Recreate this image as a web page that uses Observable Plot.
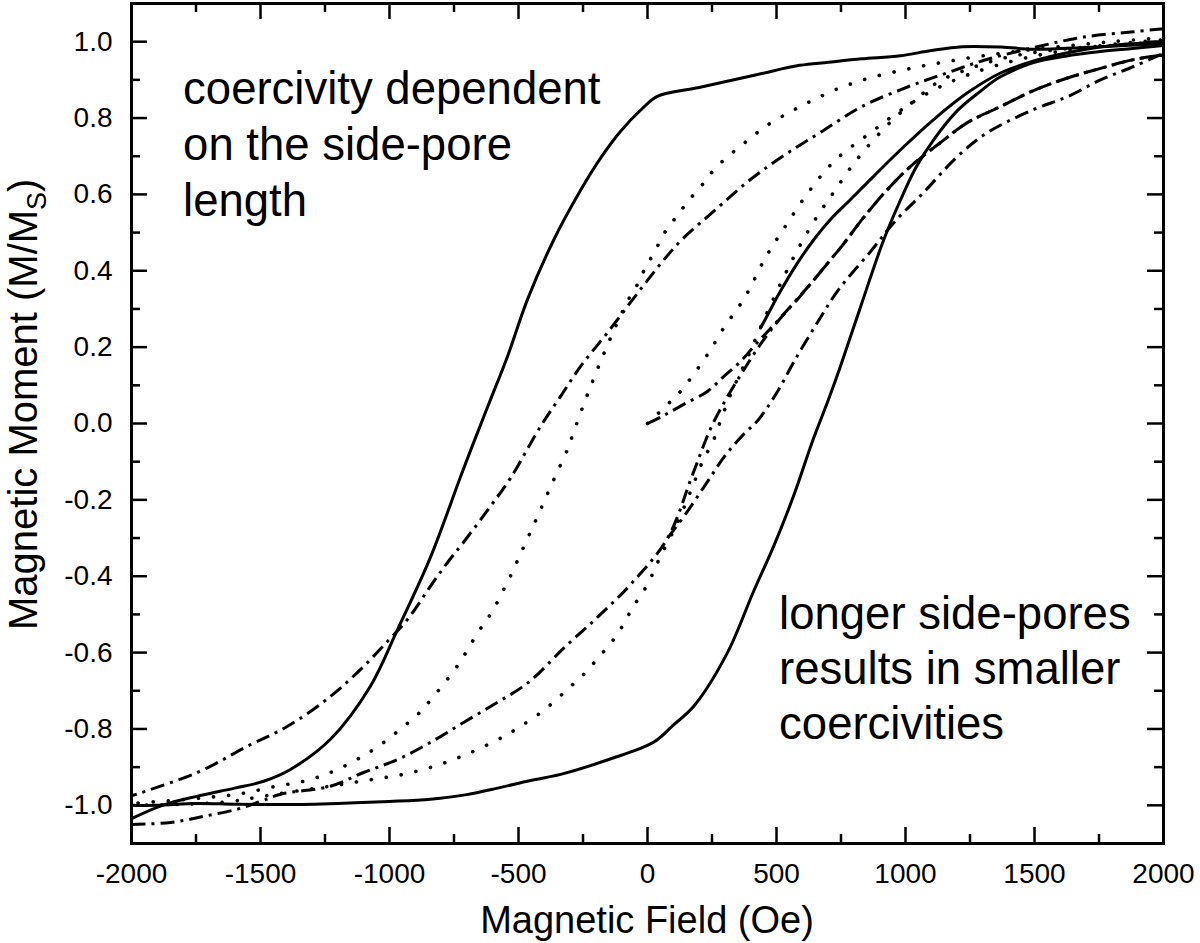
<!DOCTYPE html>
<html><head><meta charset="utf-8">
<script src="https://cdn.jsdelivr.net/npm/d3@7"></script>
<script src="https://cdn.jsdelivr.net/npm/@observablehq/plot@0.6"></script>
<style>
html,body{margin:0;padding:0;background:#fff;}
#chart{width:1200px;height:943px;}
</style></head><body><div id="chart"></div>
<script>
// ---- tick values ----
const xMajorTicks = [-2000, -1500, -1000, -500, 0, 500, 1000, 1500, 2000];
const xMinorTicks = [-1750, -1250, -750, -250, 250, 750, 1250, 1750];
const yMajorTicks = [-1.0, -0.8, -0.6, -0.4, -0.2, 0, 0.2, 0.4, 0.6, 0.8, 1.0];
const yMinorTicks = [-0.9, -0.7, -0.5, -0.3, -0.1, 0.1, 0.3, 0.5, 0.7, 0.9];

// ---- data: [field (Oe), moment (M/Ms)] ----
const solidDescending = [[2000,0.995],[1850,0.99],[1700,0.985],[1500,0.98],[1370,0.986],[1220,0.987],[1100,0.977],[980,0.963],[830,0.955],[700,0.946],[590,0.938],[414,0.912],[200,0.88],[38,0.857],[-20,0.825],[-105,0.765],[-182,0.695],[-260,0.61],[-364,0.48],[-465,0.325],[-543,0.175],[-610,0.06],[-674,-0.05],[-725,-0.14],[-841,-0.35],[-969,-0.54],[-1074,-0.688],[-1229,-0.827],[-1384,-0.906],[-1488,-0.937],[-1600,-0.955],[-1744,-0.976],[-1880,-1.0],[-2000,-1.035]];
const solidAscending = [[-2000,-1.0],[-1900,-1.0],[-1750,-0.995],[-1600,-0.997],[-1400,-0.998],[-1200,-0.995],[-1000,-0.99],[-841,-0.984],[-700,-0.972],[-581,-0.955],[-453,-0.935],[-337,-0.919],[-150,-0.88],[23,-0.835],[100,-0.79],[180,-0.74],[310,-0.6],[411,-0.44],[490,-0.32],[566,-0.19],[643,-0.04],[700,0.06],[748,0.15],[826,0.306],[915,0.48],[981,0.586],[1040,0.67],[1109,0.743],[1202,0.82],[1290,0.87],[1368,0.908],[1496,0.945],[1620,0.962],[1756,0.974],[1880,0.982],[2000,0.99]];
const solidInitial = [[438,0.25],[470,0.29],[504,0.333],[581,0.42],[643,0.48],[710,0.535],[786,0.586],[880,0.65],[981,0.717],[1109,0.796],[1240,0.866],[1368,0.918],[1500,0.95],[1628,0.971],[1800,0.99],[2000,1.0]];

const dottedDescending = [[2000,1.01],[1800,1.0],[1500,0.98],[1300,0.963],[1136,0.945],[1000,0.927],[861,0.905],[750,0.88],[644,0.848],[550,0.815],[457,0.778],[391,0.743],[329,0.709],[265,0.67],[213,0.626],[155,0.58],[109,0.539],[62,0.495],[28,0.45],[-8,0.408],[-39,0.364],[-74,0.325],[-132,0.241],[-190,0.149],[-240,0.063],[-287,-0.024],[-310,-0.068],[-368,-0.154],[-426,-0.243],[-481,-0.325],[-543,-0.416],[-609,-0.5],[-655,-0.545],[-733,-0.631],[-833,-0.718],[-891,-0.762],[-950,-0.796],[-1016,-0.832],[-1074,-0.859],[-1140,-0.885],[-1202,-0.906],[-1267,-0.924],[-1333,-0.937],[-1395,-0.945],[-1461,-0.953],[-1527,-0.963],[-1589,-0.971],[-1655,-0.976],[-1800,-0.985],[-2000,-0.995]];
const dottedAscending = [[-2000,-1.0],[-1800,-0.997],[-1616,-0.99],[-1488,-0.976],[-1333,-0.96],[-1202,-0.947],[-1074,-0.933],[-946,-0.919],[-814,-0.895],[-686,-0.862],[-558,-0.82],[-492,-0.793],[-400,-0.75],[-310,-0.696],[-240,-0.652],[-190,-0.613],[-136,-0.57],[-93,-0.526],[-58,-0.482],[-16,-0.44],[19,-0.395],[50,-0.348],[109,-0.27],[167,-0.178],[217,-0.094],[252,-0.05],[275,-0.008],[325,0.081],[384,0.167],[450,0.27],[527,0.382],[593,0.469],[660,0.545],[721,0.605],[810,0.69],[928,0.78],[1047,0.853],[1128,0.895],[1250,0.93],[1400,0.96],[1600,0.98],[1800,0.99],[2000,1.0]];
const dottedInitial = [[0,0],[70,0.045],[128,0.084],[178,0.128],[225,0.173],[264,0.215],[302,0.257],[349,0.301],[388,0.343],[457,0.434],[534,0.516],[623,0.605],[728,0.69],[861,0.76],[981,0.82],[1100,0.87],[1250,0.915],[1450,0.955],[1700,0.985],[2000,1.005]];

const dashDotDescending = [[2000,1.034],[1884,1.026],[1690,1.012],[1500,0.985],[1308,0.952],[1160,0.918],[1010,0.882],[831,0.83],[667,0.761],[533,0.704],[399,0.639],[264,0.56],[131,0.48],[41,0.41],[-48,0.333],[-155,0.238],[-260,0.149],[-337,0.071],[-415,-0.008],[-531,-0.143],[-609,-0.217],[-713,-0.311],[-775,-0.364],[-841,-0.426],[-930,-0.513],[-1000,-0.565],[-1100,-0.636],[-1229,-0.715],[-1395,-0.793],[-1550,-0.845],[-1744,-0.914],[-2000,-0.975]];
const dashDotAscending = [[-2000,-1.05],[-1849,-1.045],[-1721,-1.029],[-1589,-1.01],[-1500,-0.99],[-1422,-0.971],[-1229,-0.95],[-1100,-0.914],[-969,-0.88],[-841,-0.835],[-713,-0.783],[-581,-0.73],[-461,-0.678],[-318,-0.584],[-182,-0.5],[-58,-0.416],[78,-0.3],[178,-0.128],[256,0.003],[399,0.168],[490,0.255],[581,0.325],[640,0.372],[717,0.435],[748,0.46],[850,0.55],[940,0.62],[1019,0.673],[1136,0.736],[1240,0.788],[1368,0.83],[1496,0.872],[1628,0.905],[1756,0.93],[1884,0.953],[2000,0.965]];
const dashDotAscending2 = [[78,-0.3],[150,-0.235],[230,-0.155],[300,-0.085],[370,-0.03],[430,0.01],[504,0.084],[566,0.16],[659,0.265],[740,0.35],[864,0.45],[960,0.53],[1070,0.605],[1201,0.699],[1318,0.762],[1496,0.822],[1628,0.856],[1756,0.9],[1884,0.935],[2000,0.97]];
const dashDotInitial = [[0,0],[60,0.02],[140,0.05],[232,0.084],[295,0.123],[360,0.162],[419,0.207],[484,0.254],[562,0.312],[640,0.372],[717,0.435],[748,0.46],[850,0.55],[940,0.62],[1019,0.673],[1136,0.736],[1240,0.788],[1368,0.83],[1496,0.872],[1628,0.905],[1756,0.93],[1884,0.953],[2000,0.965]];

const annotationTop = "coercivity dependent\non the side-pore\nlength";
const annotationBottom = "longer side-pores\nresults in smaller\ncoercivities";

// ---- build table ----
const seriesList = [
  {name: "solid-desc", style: "solid", points: solidDescending},
  {name: "solid-asc", style: "solid", points: solidAscending},
  {name: "solid-init", style: "solid", points: solidInitial},
  {name: "dot-desc", style: "dotted", points: dottedDescending},
  {name: "dot-asc", style: "dotted", points: dottedAscending},
  {name: "dot-init", style: "dotted", points: dottedInitial},
  {name: "dd-desc", style: "dashdot", points: dashDotDescending},
  {name: "dd-asc", style: "dashdot", points: dashDotAscending},
  {name: "dd-asc2", style: "dashdot", points: dashDotAscending2},
  {name: "dd-init", style: "dashdot", points: dashDotInitial}
];
const rows = seriesList.flatMap(s => s.points.map(([h, m]) => ({series: s.name, style: s.style, h, m})));
const lineStyles = {
  solid: {strokeWidth: 3, strokeLinecap: "round", strokeLinejoin: "round"},
  dotted: {strokeWidth: 3.6, strokeLinecap: "round", strokeDasharray: "0.1,15"},
  dashdot: {strokeWidth: 3, strokeLinecap: "butt", strokeDasharray: "14,6,3,6"}
};

const W = 1200, H = 943, mL = 131, mR = 37, mT = 3, mB = 100;
const IW = W - mL - mR, IH = H - mT - mB;
const font = "'Liberation Sans', Arial, Helvetica, sans-serif";

const marks = [];
for (const st of ["dashdot", "dotted", "solid"]) {
  marks.push(Plot.line(rows.filter(r => r.style === st), {x: "h", y: "m", z: "series", stroke: "black", curve: "catmull-rom", ...lineStyles[st]}));
}
// inward ticks on all four sides
marks.push(
  Plot.tickX(xMajorTicks, {x: d => d, insetTop: IH - 16, strokeWidth: 2.5}),
  Plot.tickX(xMajorTicks, {x: d => d, insetBottom: IH - 16, strokeWidth: 2.5}),
  Plot.tickX(xMinorTicks, {x: d => d, insetTop: IH - 9, strokeWidth: 2.5}),
  Plot.tickX(xMinorTicks, {x: d => d, insetBottom: IH - 9, strokeWidth: 2.5}),
  Plot.tickY(yMajorTicks, {y: d => d, insetRight: IW - 16, strokeWidth: 2.5}),
  Plot.tickY(yMajorTicks, {y: d => d, insetLeft: IW - 16, strokeWidth: 2.5}),
  Plot.tickY(yMinorTicks, {y: d => d, insetRight: IW - 9, strokeWidth: 2.5}),
  Plot.tickY(yMinorTicks, {y: d => d, insetLeft: IW - 9, strokeWidth: 2.5}),
  Plot.frame({strokeWidth: 3}),
  Plot.text([{h: -1800, m: 0.94, t: annotationTop}], {x: "h", y: "m", text: "t", textAnchor: "start", lineAnchor: "top", fontSize: 45.5, lineHeight: 1.23, fill: "black"}),
  Plot.text([{h: 510, m: -0.435, t: annotationBottom}], {x: "h", y: "m", text: "t", textAnchor: "start", lineAnchor: "top", fontSize: 45.5, lineHeight: 1.21, fill: "black"})
);

const svg = Plot.plot({
  width: W, height: H,
  marginLeft: mL, marginRight: mR, marginTop: mT, marginBottom: mB,
  style: {fontFamily: font, fontSize: "28px", background: "#fff", color: "black", overflow: "visible"},
  x: {domain: [-2000, 2000], ticks: xMajorTicks, tickSize: 0, tickPadding: 20, tickFormat: d => String(d), label: null},
  y: {domain: [-1.1, 1.1], ticks: yMajorTicks, tickSize: 0, tickPadding: 19, tickFormat: d => d.toFixed(1), label: null},
  marks
});

// axis titles
const s = d3.select(svg);
s.append("text")
  .attr("x", mL + IW / 2).attr("y", 933)
  .attr("text-anchor", "middle")
  .attr("font-family", font).attr("font-size", 38).attr("fill", "black")
  .text("Magnetic Field (Oe)");
const yt = s.append("text")
  .attr("transform", `translate(37,630) rotate(-90)`)
  .attr("text-anchor", "start")
  .attr("font-family", font).attr("font-size", 40).attr("fill", "black");
yt.append("tspan").text("Magnetic Moment (M/M");
yt.append("tspan").attr("font-size", 27).attr("dy", 9).text("S");
yt.append("tspan").attr("dy", -9).text(")");

document.getElementById("chart").appendChild(svg);
</script></body></html>
